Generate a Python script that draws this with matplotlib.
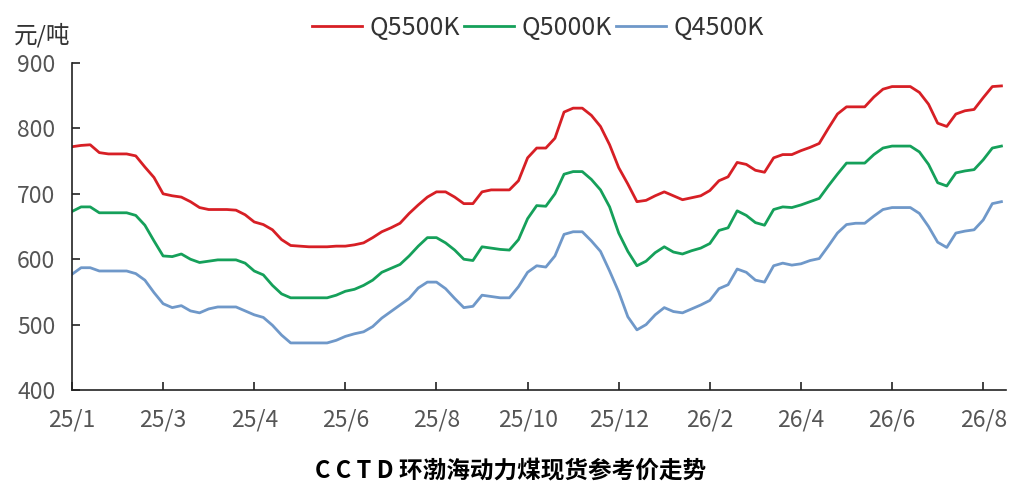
import matplotlib
matplotlib.use('Agg')
import matplotlib.pyplot as plt

plt.rcParams['font.family'] = ['Noto Sans CJK SC', 'DejaVu Sans']

# category labels, one every 10 points
tick_labels = ['25/1', '25/3', '25/4', '25/6', '25/8', '25/10',
               '25/12', '26/2', '26/4', '26/6', '26/8']

q5500 = [772, 774, 775, 763, 761, 761, 761, 758, 741, 725,
         700, 697, 695, 688, 679, 676, 676, 676, 675, 668,
         657, 653, 645, 630, 621, 620, 619, 619, 619, 620,
         620, 622, 625, 633, 642, 648, 655, 670, 683, 695,
         703, 703, 695, 685, 685, 703, 706, 706, 706, 720,
         755, 770, 770, 785, 825, 831, 831, 820, 803, 775,
         740, 715, 688, 690, 697, 703, 697, 691, 694, 697,
         705, 720, 726, 748, 745, 736, 733, 755, 760, 760,
         766, 771, 777, 800, 822, 833, 833, 833, 848, 860,
         864, 864, 864, 855, 837, 808, 803, 822, 827, 829,
         847, 864, 865]

q5000 = [673, 680, 680, 671, 671, 671, 671, 667, 652, 628,
         605, 604, 608, 600, 595, 597, 599, 599, 599, 594,
         582, 576, 560, 547, 541, 541, 541, 541, 541, 545,
         551, 554, 560, 568, 580, 586, 592, 605, 620, 633,
         633, 625, 614, 600, 598, 619, 617, 615, 614, 630,
         662, 682, 681, 700, 730, 734, 734, 722, 706, 680,
         640, 612, 590, 597, 610, 619, 611, 608, 613, 617,
         624, 644, 648, 674, 667, 656, 652, 676, 680, 679,
         683, 688, 693, 712, 730, 747, 747, 747, 760, 770,
         773, 773, 773, 764, 745, 717, 712, 732, 735, 737,
         752, 770, 773]

q4500 = [577, 587, 587, 582, 582, 582, 582, 578, 568, 549,
         532, 526, 529, 521, 518, 524, 527, 527, 527, 521,
         515, 511, 499, 484, 472, 472, 472, 472, 472, 476,
         482, 486, 489, 497, 510, 520, 530, 540, 556, 565,
         565, 555, 540, 526, 528, 545, 543, 541, 541, 558,
         580, 590, 588, 605, 638, 642, 642, 628, 612, 582,
         550, 512, 492, 500, 515, 526, 520, 518, 524, 530,
         537, 555, 561, 585, 580, 568, 565, 590, 594, 591,
         593, 598, 601, 620, 640, 653, 655, 655, 666, 676,
         679, 679, 679, 670, 650, 626, 618, 640, 643, 645,
         660, 685, 688]

x = list(range(len(q5500)))

fig = plt.figure(figsize=(10.21, 4.99), dpi=100)
ax = fig.add_axes([0.0705, 0.2184, 0.9148, 0.6553])

ax.plot(x, q5500, color='#d71f25', lw=2.0, label='Q5500K')
ax.plot(x, q5000, color='#15a05a', lw=2.0, label='Q5000K')
ax.plot(x, q4500, color='#6f98c9', lw=2.0, label='Q4500K')

ax.set_xlim(0, 102.5)
ax.set_ylim(400, 900)
ax.set_yticks([400, 500, 600, 700, 800, 900])
ax.set_xticks(range(0, 101, 10))
ax.set_xticklabels(tick_labels)

for s in ['top', 'right']:
    ax.spines[s].set_visible(False)
for s in ['left', 'bottom']:
    ax.spines[s].set_linewidth(1.2)
    ax.spines[s].set_color('#222222')

ax.tick_params(axis='both', direction='in', length=6, width=1.2,
               labelsize=16.5, labelcolor='#555555', color='#222222')
ax.tick_params(axis='x', pad=13)
ax.tick_params(axis='y', pad=12)

fig.text(0.014, 0.93, '元/吨', fontsize=17, color='#333333', va='center', ha='left')

fig.legend(loc='center', bbox_to_anchor=(0.527, 0.944), ncol=3, frameon=False,
           fontsize=18, handlelength=2.0, handletextpad=0.3, columnspacing=0.15,
           labelcolor='#333333')

fig.text(0.5, 0.058, 'C C T D 环渤海动力煤现货参考价走势', fontsize=17, fontweight='bold',
         color='black', ha='center', va='center')

fig.savefig('out.png', dpi=100)
